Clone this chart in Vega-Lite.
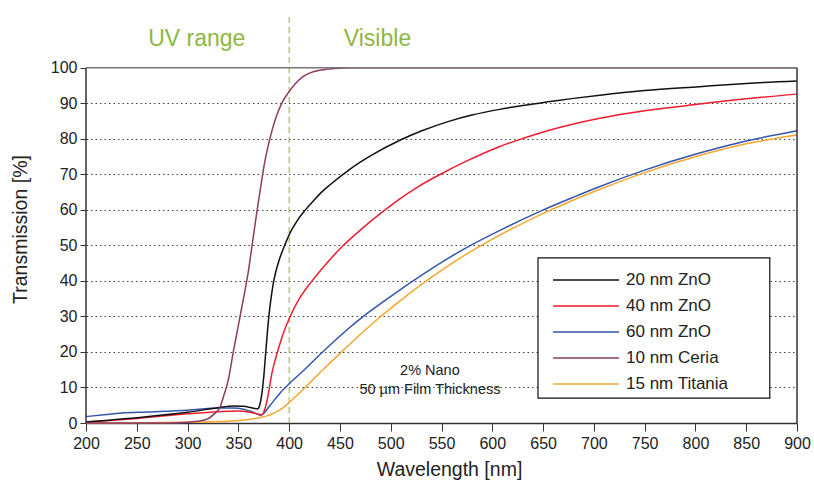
{
  "$schema": "https://vega.github.io/schema/vega-lite/v6.json",
  "width": 711,
  "height": 412,
  "autosize": {"type": "none"},
  "padding": {"left": 86, "top": 11, "right": 17, "bottom": 59},
  "background": "white",
  "config": {"view": {"stroke": null}, "font": "Liberation Sans"},
  "data": {"values": [{}]},
  "datasets": {
    "spectra": [
      {"Sample": "15 nm Titania", "Wavelength": 200, "Transmission": 0},
      {"Sample": "15 nm Titania", "Wavelength": 250, "Transmission": 0.05},
      {"Sample": "15 nm Titania", "Wavelength": 300, "Transmission": 0.2},
      {"Sample": "15 nm Titania", "Wavelength": 330, "Transmission": 0.4},
      {"Sample": "15 nm Titania", "Wavelength": 350, "Transmission": 0.7},
      {"Sample": "15 nm Titania", "Wavelength": 360, "Transmission": 1.0},
      {"Sample": "15 nm Titania", "Wavelength": 370, "Transmission": 1.5},
      {"Sample": "15 nm Titania", "Wavelength": 378, "Transmission": 2.0},
      {"Sample": "15 nm Titania", "Wavelength": 385, "Transmission": 2.8},
      {"Sample": "15 nm Titania", "Wavelength": 391, "Transmission": 3.7},
      {"Sample": "15 nm Titania", "Wavelength": 401, "Transmission": 6},
      {"Sample": "15 nm Titania", "Wavelength": 415, "Transmission": 9.8},
      {"Sample": "15 nm Titania", "Wavelength": 433, "Transmission": 14.9},
      {"Sample": "15 nm Titania", "Wavelength": 452, "Transmission": 20.1},
      {"Sample": "15 nm Titania", "Wavelength": 470, "Transmission": 24.9},
      {"Sample": "15 nm Titania", "Wavelength": 489, "Transmission": 29.7},
      {"Sample": "15 nm Titania", "Wavelength": 512, "Transmission": 35},
      {"Sample": "15 nm Titania", "Wavelength": 535, "Transmission": 40},
      {"Sample": "15 nm Titania", "Wavelength": 561, "Transmission": 45.1},
      {"Sample": "15 nm Titania", "Wavelength": 588, "Transmission": 49.8},
      {"Sample": "15 nm Titania", "Wavelength": 620, "Transmission": 54.8},
      {"Sample": "15 nm Titania", "Wavelength": 647, "Transmission": 58.6},
      {"Sample": "15 nm Titania", "Wavelength": 680, "Transmission": 62.8},
      {"Sample": "15 nm Titania", "Wavelength": 706, "Transmission": 65.8},
      {"Sample": "15 nm Titania", "Wavelength": 750, "Transmission": 70.5},
      {"Sample": "15 nm Titania", "Wavelength": 804, "Transmission": 75.3},
      {"Sample": "15 nm Titania", "Wavelength": 850, "Transmission": 78.6},
      {"Sample": "15 nm Titania", "Wavelength": 900, "Transmission": 81.1},

      {"Sample": "60 nm ZnO", "Wavelength": 200, "Transmission": 1.8},
      {"Sample": "60 nm ZnO", "Wavelength": 220, "Transmission": 2.4},
      {"Sample": "60 nm ZnO", "Wavelength": 235, "Transmission": 2.8},
      {"Sample": "60 nm ZnO", "Wavelength": 260, "Transmission": 3.1},
      {"Sample": "60 nm ZnO", "Wavelength": 300, "Transmission": 3.6},
      {"Sample": "60 nm ZnO", "Wavelength": 330, "Transmission": 4.2},
      {"Sample": "60 nm ZnO", "Wavelength": 345, "Transmission": 4.2},
      {"Sample": "60 nm ZnO", "Wavelength": 355, "Transmission": 3.9},
      {"Sample": "60 nm ZnO", "Wavelength": 365, "Transmission": 3.0},
      {"Sample": "60 nm ZnO", "Wavelength": 372, "Transmission": 2.2},
      {"Sample": "60 nm ZnO", "Wavelength": 376, "Transmission": 3.0},
      {"Sample": "60 nm ZnO", "Wavelength": 380, "Transmission": 4.5},
      {"Sample": "60 nm ZnO", "Wavelength": 385, "Transmission": 6.3},
      {"Sample": "60 nm ZnO", "Wavelength": 391, "Transmission": 8.4},
      {"Sample": "60 nm ZnO", "Wavelength": 401, "Transmission": 11.3},
      {"Sample": "60 nm ZnO", "Wavelength": 415, "Transmission": 15},
      {"Sample": "60 nm ZnO", "Wavelength": 433, "Transmission": 20},
      {"Sample": "60 nm ZnO", "Wavelength": 452, "Transmission": 25},
      {"Sample": "60 nm ZnO", "Wavelength": 473, "Transmission": 30},
      {"Sample": "60 nm ZnO", "Wavelength": 497, "Transmission": 35},
      {"Sample": "60 nm ZnO", "Wavelength": 522, "Transmission": 40},
      {"Sample": "60 nm ZnO", "Wavelength": 552, "Transmission": 45.6},
      {"Sample": "60 nm ZnO", "Wavelength": 580, "Transmission": 50.2},
      {"Sample": "60 nm ZnO", "Wavelength": 610, "Transmission": 54.6},
      {"Sample": "60 nm ZnO", "Wavelength": 647, "Transmission": 59.6},
      {"Sample": "60 nm ZnO", "Wavelength": 680, "Transmission": 63.6},
      {"Sample": "60 nm ZnO", "Wavelength": 706, "Transmission": 66.6},
      {"Sample": "60 nm ZnO", "Wavelength": 750, "Transmission": 71.2},
      {"Sample": "60 nm ZnO", "Wavelength": 804, "Transmission": 76.0},
      {"Sample": "60 nm ZnO", "Wavelength": 850, "Transmission": 79.4},
      {"Sample": "60 nm ZnO", "Wavelength": 900, "Transmission": 82.3},

      {"Sample": "40 nm ZnO", "Wavelength": 200, "Transmission": 0.2},
      {"Sample": "40 nm ZnO", "Wavelength": 250, "Transmission": 1.3},
      {"Sample": "40 nm ZnO", "Wavelength": 300, "Transmission": 2.6},
      {"Sample": "40 nm ZnO", "Wavelength": 330, "Transmission": 3.2},
      {"Sample": "40 nm ZnO", "Wavelength": 350, "Transmission": 3.4},
      {"Sample": "40 nm ZnO", "Wavelength": 360, "Transmission": 3.1},
      {"Sample": "40 nm ZnO", "Wavelength": 368, "Transmission": 2.6},
      {"Sample": "40 nm ZnO", "Wavelength": 373, "Transmission": 2.3},
      {"Sample": "40 nm ZnO", "Wavelength": 376, "Transmission": 3.8},
      {"Sample": "40 nm ZnO", "Wavelength": 378, "Transmission": 6},
      {"Sample": "40 nm ZnO", "Wavelength": 380, "Transmission": 9},
      {"Sample": "40 nm ZnO", "Wavelength": 383, "Transmission": 14},
      {"Sample": "40 nm ZnO", "Wavelength": 387, "Transmission": 18.5},
      {"Sample": "40 nm ZnO", "Wavelength": 391, "Transmission": 22.4},
      {"Sample": "40 nm ZnO", "Wavelength": 395, "Transmission": 25.8},
      {"Sample": "40 nm ZnO", "Wavelength": 401, "Transmission": 30},
      {"Sample": "40 nm ZnO", "Wavelength": 410, "Transmission": 35},
      {"Sample": "40 nm ZnO", "Wavelength": 422, "Transmission": 39.8},
      {"Sample": "40 nm ZnO", "Wavelength": 437, "Transmission": 45},
      {"Sample": "40 nm ZnO", "Wavelength": 453, "Transmission": 49.9},
      {"Sample": "40 nm ZnO", "Wavelength": 470, "Transmission": 54.3},
      {"Sample": "40 nm ZnO", "Wavelength": 490, "Transmission": 59},
      {"Sample": "40 nm ZnO", "Wavelength": 509, "Transmission": 63.1},
      {"Sample": "40 nm ZnO", "Wavelength": 528, "Transmission": 66.7},
      {"Sample": "40 nm ZnO", "Wavelength": 548, "Transmission": 69.9},
      {"Sample": "40 nm ZnO", "Wavelength": 575, "Transmission": 73.8},
      {"Sample": "40 nm ZnO", "Wavelength": 607, "Transmission": 77.8},
      {"Sample": "40 nm ZnO", "Wavelength": 630, "Transmission": 80.1},
      {"Sample": "40 nm ZnO", "Wavelength": 657, "Transmission": 82.5},
      {"Sample": "40 nm ZnO", "Wavelength": 680, "Transmission": 84.2},
      {"Sample": "40 nm ZnO", "Wavelength": 706, "Transmission": 85.8},
      {"Sample": "40 nm ZnO", "Wavelength": 750, "Transmission": 87.9},
      {"Sample": "40 nm ZnO", "Wavelength": 804, "Transmission": 89.8},
      {"Sample": "40 nm ZnO", "Wavelength": 850, "Transmission": 91.3},
      {"Sample": "40 nm ZnO", "Wavelength": 900, "Transmission": 92.6},

      {"Sample": "20 nm ZnO", "Wavelength": 200, "Transmission": 0.3},
      {"Sample": "20 nm ZnO", "Wavelength": 250, "Transmission": 1.5},
      {"Sample": "20 nm ZnO", "Wavelength": 300, "Transmission": 3.0},
      {"Sample": "20 nm ZnO", "Wavelength": 330, "Transmission": 4.3},
      {"Sample": "20 nm ZnO", "Wavelength": 345, "Transmission": 4.8},
      {"Sample": "20 nm ZnO", "Wavelength": 355, "Transmission": 4.7},
      {"Sample": "20 nm ZnO", "Wavelength": 363, "Transmission": 4.3},
      {"Sample": "20 nm ZnO", "Wavelength": 369, "Transmission": 4.0},
      {"Sample": "20 nm ZnO", "Wavelength": 371, "Transmission": 5},
      {"Sample": "20 nm ZnO", "Wavelength": 373, "Transmission": 8},
      {"Sample": "20 nm ZnO", "Wavelength": 375, "Transmission": 13},
      {"Sample": "20 nm ZnO", "Wavelength": 377, "Transmission": 20},
      {"Sample": "20 nm ZnO", "Wavelength": 379, "Transmission": 27},
      {"Sample": "20 nm ZnO", "Wavelength": 381, "Transmission": 32.5},
      {"Sample": "20 nm ZnO", "Wavelength": 383, "Transmission": 36.8},
      {"Sample": "20 nm ZnO", "Wavelength": 385, "Transmission": 40.2},
      {"Sample": "20 nm ZnO", "Wavelength": 388, "Transmission": 43.8},
      {"Sample": "20 nm ZnO", "Wavelength": 391, "Transmission": 46.6},
      {"Sample": "20 nm ZnO", "Wavelength": 396, "Transmission": 50.3},
      {"Sample": "20 nm ZnO", "Wavelength": 401, "Transmission": 53.6},
      {"Sample": "20 nm ZnO", "Wavelength": 408, "Transmission": 57.0},
      {"Sample": "20 nm ZnO", "Wavelength": 416, "Transmission": 60.0},
      {"Sample": "20 nm ZnO", "Wavelength": 424, "Transmission": 62.6},
      {"Sample": "20 nm ZnO", "Wavelength": 432, "Transmission": 65.0},
      {"Sample": "20 nm ZnO", "Wavelength": 440, "Transmission": 67.0},
      {"Sample": "20 nm ZnO", "Wavelength": 460, "Transmission": 71.5},
      {"Sample": "20 nm ZnO", "Wavelength": 480, "Transmission": 75.2},
      {"Sample": "20 nm ZnO", "Wavelength": 509, "Transmission": 79.6},
      {"Sample": "20 nm ZnO", "Wavelength": 530, "Transmission": 82.2},
      {"Sample": "20 nm ZnO", "Wavelength": 558, "Transmission": 85.0},
      {"Sample": "20 nm ZnO", "Wavelength": 580, "Transmission": 86.7},
      {"Sample": "20 nm ZnO", "Wavelength": 607, "Transmission": 88.3},
      {"Sample": "20 nm ZnO", "Wavelength": 630, "Transmission": 89.4},
      {"Sample": "20 nm ZnO", "Wavelength": 657, "Transmission": 90.5},
      {"Sample": "20 nm ZnO", "Wavelength": 680, "Transmission": 91.4},
      {"Sample": "20 nm ZnO", "Wavelength": 706, "Transmission": 92.3},
      {"Sample": "20 nm ZnO", "Wavelength": 750, "Transmission": 93.6},
      {"Sample": "20 nm ZnO", "Wavelength": 804, "Transmission": 94.7},
      {"Sample": "20 nm ZnO", "Wavelength": 850, "Transmission": 95.6},
      {"Sample": "20 nm ZnO", "Wavelength": 900, "Transmission": 96.3},

      {"Sample": "10 nm Ceria", "Wavelength": 200, "Transmission": 0},
      {"Sample": "10 nm Ceria", "Wavelength": 280, "Transmission": 0},
      {"Sample": "10 nm Ceria", "Wavelength": 300, "Transmission": 0.2},
      {"Sample": "10 nm Ceria", "Wavelength": 310, "Transmission": 0.5},
      {"Sample": "10 nm Ceria", "Wavelength": 320, "Transmission": 1.2},
      {"Sample": "10 nm Ceria", "Wavelength": 326, "Transmission": 2.5},
      {"Sample": "10 nm Ceria", "Wavelength": 332, "Transmission": 4.5},
      {"Sample": "10 nm Ceria", "Wavelength": 336, "Transmission": 8},
      {"Sample": "10 nm Ceria", "Wavelength": 340, "Transmission": 12},
      {"Sample": "10 nm Ceria", "Wavelength": 345, "Transmission": 20},
      {"Sample": "10 nm Ceria", "Wavelength": 350, "Transmission": 27.5},
      {"Sample": "10 nm Ceria", "Wavelength": 355, "Transmission": 35},
      {"Sample": "10 nm Ceria", "Wavelength": 360, "Transmission": 43},
      {"Sample": "10 nm Ceria", "Wavelength": 364, "Transmission": 51},
      {"Sample": "10 nm Ceria", "Wavelength": 368, "Transmission": 59},
      {"Sample": "10 nm Ceria", "Wavelength": 372, "Transmission": 66.5},
      {"Sample": "10 nm Ceria", "Wavelength": 376, "Transmission": 73.5},
      {"Sample": "10 nm Ceria", "Wavelength": 381, "Transmission": 80},
      {"Sample": "10 nm Ceria", "Wavelength": 387, "Transmission": 86},
      {"Sample": "10 nm Ceria", "Wavelength": 393, "Transmission": 90.2},
      {"Sample": "10 nm Ceria", "Wavelength": 400, "Transmission": 93.3},
      {"Sample": "10 nm Ceria", "Wavelength": 406, "Transmission": 95.5},
      {"Sample": "10 nm Ceria", "Wavelength": 413, "Transmission": 97.4},
      {"Sample": "10 nm Ceria", "Wavelength": 420, "Transmission": 98.5},
      {"Sample": "10 nm Ceria", "Wavelength": 430, "Transmission": 99.3},
      {"Sample": "10 nm Ceria", "Wavelength": 445, "Transmission": 99.8},
      {"Sample": "10 nm Ceria", "Wavelength": 460, "Transmission": 100},
      {"Sample": "10 nm Ceria", "Wavelength": 600, "Transmission": 100},
      {"Sample": "10 nm Ceria", "Wavelength": 900, "Transmission": 100}
    ]
  },
  "layer": [
    {
      "mark": {"type": "rule", "color": "#8FB04A", "strokeWidth": 1, "strokeDash": [6, 4]},
      "encoding": {
        "x": {"datum": 400, "type": "quantitative"},
        "y": {"datum": 0, "type": "quantitative"},
        "y2": {"datum": 115}
      }
    },
    {
      "mark": {"type": "rect", "fill": "white", "stroke": "#111", "strokeWidth": 1.2},
      "encoding": {
        "x": {"datum": 645}, "x2": {"datum": 873.2},
        "y": {"datum": 46.5}, "y2": {"datum": 7}
      }
    },
    {
      "data": {"name": "spectra"},
      "mark": {"type": "line", "strokeWidth": 1.5, "interpolate": "monotone"},
      "encoding": {
        "x": {
          "field": "Wavelength", "type": "quantitative",
          "scale": {"domain": [200, 900], "nice": false, "zero": false},
          "axis": {
            "values": [200,225,250,275,300,325,350,375,400,425,450,475,500,525,550,575,600,625,650,675,700,725,750,775,800,825,850,875,900],
            "labelExpr": "datum.value % 50 === 0 ? datum.label : ''",
            "labelFlush": false,
            "labelOverlap": false,
            "tickSize": {"condition": {"test": "datum.value % 50 !== 0", "value": 4}, "value": 8},
            "grid": false,
            "domainColor": "#333", "domainWidth": 1.5,
            "tickColor": "#333",
            "labelFontSize": 16, "labelColor": "#222", "labelPadding": 4,
            "title": "Wavelength [nm]", "titleFontSize": 19.5, "titleFontWeight": "normal", "titleColor": "#222",
            "titleX": 363, "titleY": 37, "titleBaseline": "top"
          }
        },
        "y": {
          "field": "Transmission", "type": "quantitative",
          "scale": {"domain": [0, 116], "nice": false},
          "axis": {
            "values": [0,5,10,15,20,25,30,35,40,45,50,55,60,65,70,75,80,85,90,95,100],
            "labelExpr": "datum.value % 10 === 0 ? datum.label : ''",
            "labelFlush": false,
            "tickSize": {"condition": {"test": "datum.value % 10 !== 0", "value": 3}, "value": 6},
            "domain": false,
            "tickColor": "#333",
            "grid": true, "gridColor": "#444", "gridDash": [1.5, 3], "gridWidth": 1.2,
            "gridOpacity": {"condition": {"test": "datum.value % 10 !== 0 || datum.value === 0 || datum.value === 100", "value": 0}, "value": 1},
            "labelFontSize": 16, "labelColor": "#222", "labelPadding": 3,
            "title": "Transmission [%]", "titleFontSize": 19.5, "titleFontWeight": "normal", "titleColor": "#222",
            "titleX": -56, "titleY": 218
          }
        },
        "color": {
          "field": "Sample", "type": "nominal",
          "scale": {
            "domain": ["20 nm ZnO", "40 nm ZnO", "60 nm ZnO", "10 nm Ceria", "15 nm Titania"],
            "range": ["#111111", "#EE1C2E", "#3355AA", "#8C3C64", "#F5A631"]
          },
          "legend": {
            "title": null,
            "orient": "none", "legendX": 488, "legendY": 257,
            "padding": 0,
            "symbolType": "M-3,0H3", "symbolSize": 484, "symbolStrokeWidth": 1.5,
            "labelFontSize": 17, "labelColor": "#222", "labelOffset": 28,
            "rowPadding": 6
          }
        }
      }
    },
    {
      "mark": {"type": "rule", "color": "#333", "strokeWidth": 1.5},
      "encoding": {"x": {"datum": 200}, "y": {"datum": 0}, "y2": {"datum": 100}}
    },
    {
      "mark": {"type": "rule", "color": "#333", "strokeWidth": 1.5},
      "encoding": {"x": {"datum": 900}, "y": {"datum": 0}, "y2": {"datum": 100}}
    },
    {
      "mark": {"type": "rule", "color": "#777", "strokeWidth": 1.5},
      "encoding": {"y": {"datum": 100}, "x": {"datum": 200}, "x2": {"datum": 900}}
    },
    {
      "mark": {"type": "text", "fontSize": 23, "color": "#8DB73F", "align": "center", "baseline": "middle"},
      "encoding": {"x": {"datum": 309}, "y": {"datum": 108}, "text": {"value": "UV range"}}
    },
    {
      "mark": {"type": "text", "fontSize": 23, "color": "#8DB73F", "align": "center", "baseline": "middle"},
      "encoding": {"x": {"datum": 487}, "y": {"datum": 108}, "text": {"value": "Visible"}}
    },
    {
      "mark": {"type": "text", "fontSize": 14.5, "color": "#222", "align": "center", "baseline": "top", "lineHeight": 19},
      "encoding": {"x": {"datum": 538.6}, "y": {"datum": 16.6}, "text": {"value": ["2% Nano", "50 µm Film Thickness"]}}
    }
  ]
}
